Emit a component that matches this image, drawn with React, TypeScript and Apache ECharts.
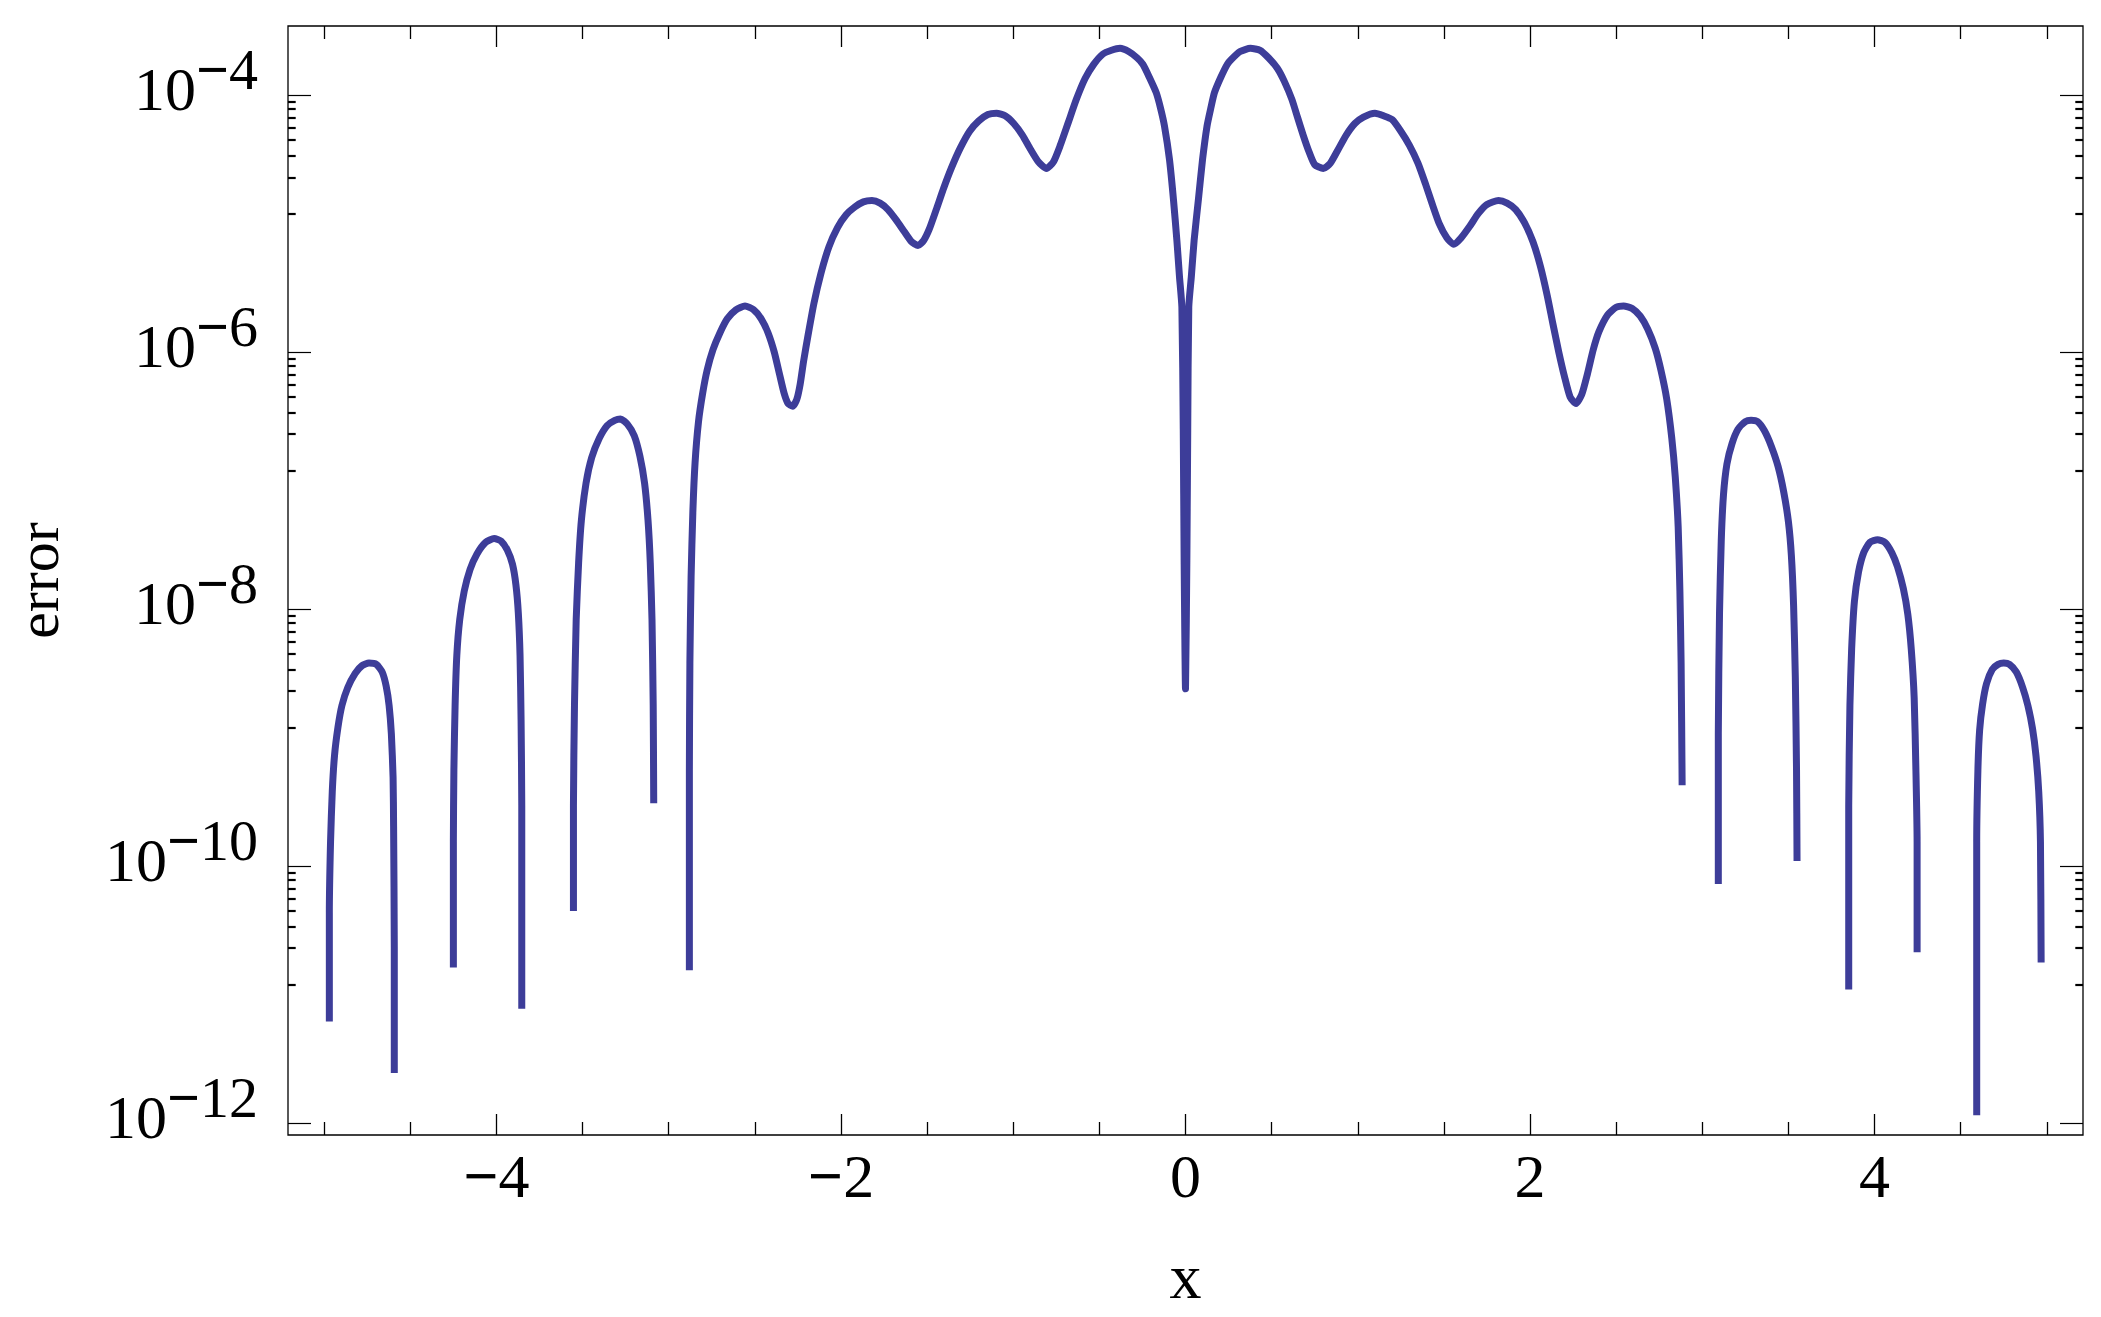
import React, { useEffect, useRef } from "react";
import * as echarts from "echarts";

// ---- tick values ----
const xTickLabels = [-4, -2, 0, 2, 4];
const xMinorTicks = [-5, -4.5, -3.5, -3, -2.5, -1.5, -1, -0.5, 0.5, 1, 1.5, 2.5, 3, 3.5, 4.5, 5];
const yTickExponents = [-12, -10, -8, -6, -4];
// minor ticks inside each two-decade interval, as multiples of the lower major tick
const yMinorFactors = [12, 23, 34, 45, 56, 67, 78, 89];

// ---- curve: x and log10(error), one pair of arrays per visible (positive) segment ----
const seg1X = [-4.970, -4.970, -4.963, -4.953, -4.940, -4.920, -4.897, -4.863, -4.820, -4.780, -4.740, -4.697, -4.663, -4.640, -4.623, -4.610, -4.600, -4.597, -4.593, -4.593];
const seg1Y = [-11.21, -10.36, -9.81, -9.42, -9.14, -8.92, -8.75, -8.61, -8.50, -8.44, -8.42, -8.43, -8.49, -8.60, -8.75, -8.97, -9.31, -9.69, -10.64, -11.61];

const seg2X = [-4.250, -4.250, -4.247, -4.240, -4.230, -4.213, -4.187, -4.153, -4.113, -4.063, -4.013, -3.973, -3.937, -3.907, -3.887, -3.873, -3.863, -3.857, -3.853, -3.853];
const seg2Y = [-10.79, -9.81, -9.25, -8.75, -8.36, -8.08, -7.86, -7.69, -7.57, -7.48, -7.45, -7.47, -7.54, -7.65, -7.81, -8.03, -8.36, -8.86, -9.53, -11.11];

const seg3X = [-3.553, -3.553, -3.547, -3.537, -3.523, -3.507, -3.480, -3.447, -3.403, -3.357, -3.313, -3.280, -3.240, -3.200, -3.167, -3.140, -3.120, -3.107, -3.097, -3.090, -3.087];
const seg3Y = [-10.35, -9.53, -8.75, -8.08, -7.64, -7.31, -7.02, -6.82, -6.67, -6.57, -6.53, -6.52, -6.56, -6.65, -6.81, -7.02, -7.31, -7.64, -8.08, -8.75, -9.51];

const seg4X = [
  -2.880, -2.880, -2.877, -2.870, -2.860, -2.847, -2.827, -2.803, -2.777, -2.743, -2.703, -2.660, -2.610, -2.557, -2.507, -2.463,
  -2.423, -2.387, -2.357, -2.330, -2.307, -2.280, -2.257, -2.237, -2.217, -2.190, -2.157, -2.117, -2.070, -2.020, -1.970, -1.920,
  -1.870, -1.820, -1.773, -1.727, -1.680, -1.633, -1.590, -1.553, -1.520, -1.487, -1.447, -1.403, -1.357, -1.307, -1.253, -1.200,
  -1.147, -1.097, -1.047, -0.997, -0.947, -0.900, -0.853, -0.807, -0.767, -0.727, -0.680, -0.633, -0.583, -0.533, -0.480, -0.430,
  -0.380, -0.330, -0.280, -0.247, -0.210, -0.170, -0.145, -0.122, -0.093, -0.070, -0.050, -0.035, -0.021, -0.013, -0.008, 0.000,
  0.008, 0.013, 0.019, 0.034, 0.050, 0.075, 0.099, 0.125, 0.147, 0.168, 0.205, 0.242, 0.267, 0.317, 0.377, 0.433,
  0.483, 0.533, 0.573, 0.617, 0.650, 0.683, 0.717, 0.750, 0.800, 0.840, 0.883, 0.933, 0.983, 1.033, 1.100, 1.150,
  1.200, 1.250, 1.300, 1.350, 1.393, 1.433, 1.473, 1.517, 1.557, 1.600, 1.650, 1.700, 1.750, 1.817, 1.867, 1.917,
  1.967, 2.017, 2.060, 2.100, 2.133, 2.167, 2.200, 2.233, 2.267, 2.300, 2.333, 2.367, 2.400, 2.450, 2.500, 2.543,
  2.593, 2.640, 2.683, 2.727, 2.760, 2.793, 2.823, 2.843, 2.860, 2.870, 2.877, 2.883,
];
const seg4Y = [
  -10.81, -9.25, -8.42, -7.75, -7.25, -6.86, -6.54, -6.32, -6.14, -5.98, -5.85, -5.74, -5.67, -5.64, -5.67, -5.74,
  -5.85, -6.00, -6.17, -6.32, -6.40, -6.42, -6.37, -6.25, -6.07, -5.86, -5.62, -5.39, -5.18, -5.03, -4.93, -4.87,
  -4.83, -4.82, -4.84, -4.89, -4.97, -5.06, -5.14, -5.17, -5.13, -5.04, -4.89, -4.72, -4.56, -4.41, -4.28, -4.20,
  -4.15, -4.14, -4.16, -4.22, -4.31, -4.42, -4.52, -4.57, -4.52, -4.39, -4.21, -4.03, -3.87, -3.76, -3.68, -3.65,
  -3.635, -3.66, -3.71, -3.76, -3.86, -3.98, -4.10, -4.24, -4.50, -4.81, -5.13, -5.41, -5.65, -6.60, -7.60, -8.62,
  -7.60, -6.60, -5.65, -5.41, -5.13, -4.81, -4.50, -4.24, -4.10, -3.98, -3.86, -3.76, -3.72, -3.66, -3.635, -3.65,
  -3.71, -3.79, -3.89, -4.03, -4.17, -4.31, -4.44, -4.54, -4.57, -4.53, -4.43, -4.31, -4.22, -4.17, -4.14, -4.16,
  -4.19, -4.28, -4.39, -4.53, -4.69, -4.85, -5.00, -5.11, -5.16, -5.11, -5.02, -4.92, -4.85, -4.82, -4.84, -4.89,
  -4.99, -5.14, -5.33, -5.56, -5.78, -6.00, -6.19, -6.35, -6.40, -6.33, -6.17, -5.98, -5.84, -5.71, -5.65, -5.64,
  -5.66, -5.72, -5.82, -5.97, -6.14, -6.36, -6.67, -6.97, -7.36, -7.86, -8.42, -9.37,
];

const seg5X = [3.093, 3.093, 3.100, 3.110, 3.123, 3.143, 3.173, 3.207, 3.250, 3.283, 3.320, 3.360, 3.400, 3.440, 3.473, 3.500, 3.517, 3.530, 3.540, 3.547, 3.550];
const seg5Y = [-10.14, -8.97, -8.03, -7.47, -7.11, -6.87, -6.71, -6.60, -6.54, -6.53, -6.54, -6.61, -6.73, -6.89, -7.09, -7.32, -7.58, -7.97, -8.53, -9.25, -9.96];

const seg6X = [3.850, 3.850, 3.857, 3.867, 3.883, 3.907, 3.937, 3.973, 4.017, 4.060, 4.100, 4.133, 4.167, 4.193, 4.213, 4.230, 4.240, 4.247, 4.247];
const seg6Y = [-10.96, -9.53, -8.75, -8.31, -7.94, -7.71, -7.56, -7.48, -7.46, -7.48, -7.56, -7.67, -7.84, -8.04, -8.31, -8.69, -9.25, -9.81, -10.67];

const seg7X = [4.593, 4.593, 4.600, 4.610, 4.627, 4.650, 4.683, 4.717, 4.750, 4.783, 4.823, 4.860, 4.890, 4.917, 4.937, 4.953, 4.963, 4.967];
const seg7Y = [-11.94, -9.81, -9.25, -8.94, -8.74, -8.58, -8.47, -8.43, -8.42, -8.43, -8.49, -8.61, -8.75, -8.93, -9.14, -9.42, -9.81, -10.75];

const segments: [number[], number[]][] = [
  [seg1X, seg1Y], [seg2X, seg2Y], [seg3X, seg3Y], [seg4X, seg4Y], [seg5X, seg5Y], [seg6X, seg6Y], [seg7X, seg7Y],
];

const FONT = "'Liberation Serif', 'Times New Roman', serif";
const LINE_COLOR = "#3d3d99";

export default function App() {
  const ref = useRef<HTMLDivElement>(null);

  useEffect(() => {
    document.body.style.margin = "0";
    const el = ref.current;
    if (!el) return;
    const chart = echarts.init(el, null, { renderer: "svg" });

    const xMin = -5.21, xMax = 5.21, yMin = -12.093, yMax = -3.461;
    const yMinor: number[] = [];
    for (let i = 0; i < yTickExponents.length - 1; i++) {
      for (const f of yMinorFactors) yMinor.push(yTickExponents[i] + Math.log10(f));
    }

    const tick = (len: number, w: number, values: number[]) => ({
      show: true, inside: true, length: len, customValues: values,
      lineStyle: { color: "#000", width: w },
    });
    const base = {
      type: "value",
      axisLine: { show: false, onZero: false },
      splitLine: { show: false },
      gridIndex: 0,
    };

    const xAxis = [
      {
        ...base, position: "bottom", min: xMin, max: xMax,
        axisTick: tick(21, 1.3, xTickLabels),
        axisLabel: {
          show: true, customValues: xTickLabels, margin: 10,
          formatter: (v: number) => (v < 0 ? `{m|\u2212}{d|${-v}}` : `{d|${v}}`),
          rich: {
            d: { fontFamily: FONT, fontSize: 62, lineHeight: 62, color: "#000" },
            m: { fontFamily: FONT, fontSize: 62, fontWeight: "bold", lineHeight: 62, color: "#000" },
          },
        },
        name: "x", nameLocation: "middle", nameGap: 121,
        nameTextStyle: { fontFamily: FONT, fontSize: 64, lineHeight: 40, color: "#000" },
      },
      { ...base, position: "bottom", min: xMin, max: xMax, axisTick: tick(13, 1.3, xMinorTicks), axisLabel: { show: false } },
      { ...base, position: "top", min: xMin, max: xMax, axisTick: tick(21, 1.3, xTickLabels), axisLabel: { show: false } },
      { ...base, position: "top", min: xMin, max: xMax, axisTick: tick(13, 1.3, xMinorTicks), axisLabel: { show: false } },
    ];

    const yAxis = [
      {
        ...base, position: "left", min: yMin, max: yMax,
        axisTick: tick(23, 1.2, yTickExponents),
        axisLabel: {
          show: true, customValues: yTickExponents, margin: 30, padding: [0, 0, 12, 0],
          formatter: (v: number) => `{b|10}{m|\u2212}{s|${Math.abs(v)}}`,
          rich: {
            b: { fontFamily: FONT, fontSize: 62, lineHeight: 62, verticalAlign: "bottom", color: "#000" },
            m: { fontFamily: FONT, fontSize: 58, fontWeight: "bold", lineHeight: 58, padding: [0, 0, 22, 0], verticalAlign: "bottom", color: "#000" },
            s: { fontFamily: FONT, fontSize: 58, lineHeight: 58, padding: [0, 0, 22, 0], verticalAlign: "bottom", color: "#000" },
          },
        },
        name: "error", nameLocation: "middle", nameGap: 230, nameRotate: 90,
        nameTextStyle: { fontFamily: FONT, fontSize: 60, lineHeight: 40, color: "#000" },
      },
      { ...base, position: "left", min: yMin, max: yMax, axisTick: tick(7.7, 2.2, yMinor), axisLabel: { show: false } },
      { ...base, position: "right", min: yMin, max: yMax, axisTick: tick(23, 1.2, yTickExponents), axisLabel: { show: false } },
      { ...base, position: "right", min: yMin, max: yMax, axisTick: tick(7.7, 2.2, yMinor), axisLabel: { show: false } },
    ];

    const series = segments.map(([xs, ys], i) => ({
      name: `segment ${i + 1}`,
      type: "line",
      xAxisIndex: 0,
      yAxisIndex: 0,
      data: xs.map((x, j) => [x, ys[j]]),
      showSymbol: false,
      symbol: "none",
      smooth: 0.2,
      lineStyle: { color: LINE_COLOR, width: 7, cap: "butt", join: "round" },
      z: 3,
    }));

    chart.setOption({
      animation: false,
      backgroundColor: "#ffffff",
      grid: {
        left: 288, right: 18, top: 26, bottom: 182,
        show: true, borderColor: "#000", borderWidth: 1.3, backgroundColor: "#ffffff",
        containLabel: false, outerBoundsMode: "none",
      },
      xAxis,
      yAxis,
      series,
    } as any);

    return () => chart.dispose();
  }, []);

  return (
    <div
      ref={ref}
      style={{ position: "absolute", left: 0, top: 0, width: 2101, height: 1317, background: "#fff" }}
    />
  );
}
